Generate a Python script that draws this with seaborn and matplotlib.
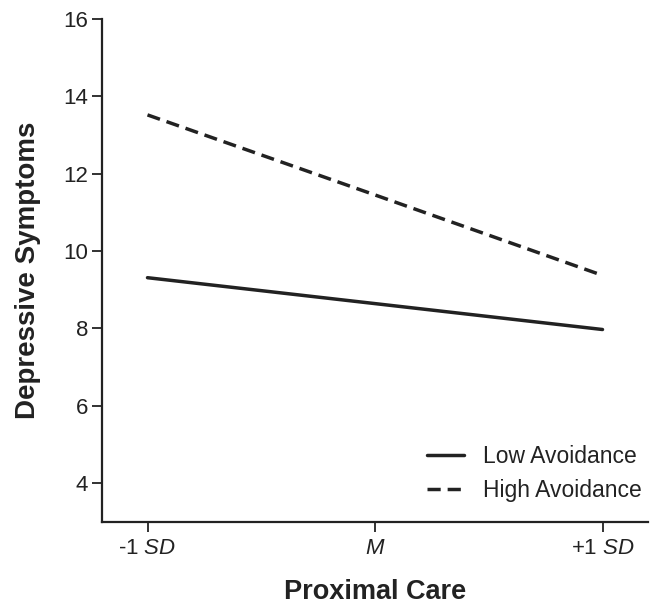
import matplotlib
matplotlib.use("Agg")
import matplotlib.pyplot as plt
import seaborn as sns
import pandas as pd

x_pos = [-1, 0, 1]
x_labels = ["-1 $\\it{SD}$", "$\\it{M}$", "+1 $\\it{SD}$"]
low_avoidance = [9.31, 8.64, 7.97]
high_avoidance = [13.52, 11.45, 9.37]
y_ticks = [4, 6, 8, 10, 12, 14, 16]

df = pd.DataFrame({
    "x": x_pos * 2,
    "y": low_avoidance + high_avoidance,
    "group": ["Low Avoidance"] * 3 + ["High Avoidance"] * 3,
})

sns.set_style("ticks")
plt.rcParams["font.family"] = ["Liberation Sans", "DejaVu Sans"]
plt.rcParams["mathtext.fontset"] = "custom"
plt.rcParams["mathtext.it"] = "Liberation Sans:italic"
plt.rcParams["mathtext.rm"] = "Liberation Sans"

ink = "#222222"
W, H = 659, 611
fig = plt.figure(figsize=(W / 100, H / 100), dpi=100)
ax = fig.add_axes([102 / W, 1 - 521.7 / H, 546 / W, (521.7 - 19) / H])

sns.lineplot(data=df, x="x", y="y", hue="group", style="group",
             palette={"Low Avoidance": ink, "High Avoidance": ink},
             dashes={"Low Avoidance": "", "High Avoidance": (3.8, 2.0)},
             linewidth=2.5, ax=ax, legend=True)

ax.set_xlim(-1.2, 1.2)
ax.set_ylim(3.0, 16)
ax.set_xticks(x_pos)
ax.set_xticklabels(x_labels)
ax.set_yticks(y_ticks)
ax.tick_params(axis="both", labelsize=16, length=7, width=1.3, color=ink,
               labelcolor=ink)
ax.tick_params(axis="y", pad=3)
ax.tick_params(axis="x", pad=5)
sns.despine(ax=ax)
for s in ["left", "bottom"]:
    ax.spines[s].set_linewidth(1.6)
    ax.spines[s].set_color(ink)

ax.set_xlabel("Proximal Care", fontsize=19.5, fontweight="bold", labelpad=14, color=ink)
ax.set_ylabel("Depressive Symptoms", fontsize=20, fontweight="bold", labelpad=16, color=ink)

leg = ax.legend(title=None, frameon=False, loc="center left", fontsize=16.5,
                handlelength=1.6, handletextpad=0.85, labelspacing=0.45,
                borderaxespad=0, borderpad=0,
                bbox_to_anchor=((427 - 102) / 546, 1 - (473.5 - 19) / 502.7))
for t in leg.get_texts():
    t.set_color(ink)

fig.savefig("out.png", dpi=100)
